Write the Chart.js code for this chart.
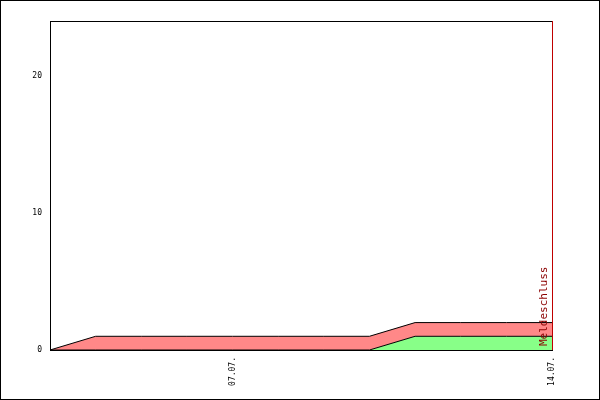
<!DOCTYPE html><html><head><script src="https://cdn.jsdelivr.net/npm/chart.js@4"></script>
<style>body{margin:0;background:#fff}#w{width:598px;height:398px;border:1px solid #000}</style></head><body>
<div id="w"><canvas id="c"></canvas></div>
<script>
const days=['03.07.','04.07.','05.07.','06.07.','07.07.','08.07.','09.07.','10.07.','11.07.','12.07.','13.07.','14.07.'];
const shownLabels=['07.07.','14.07.'];
const greenVals=[0,0,0,0,0,0,0,0,1,1,1,1];
const redVals=[0,1,1,1,1,1,1,1,1,1,1,1];
const yTicks=[0,10,20];
const deadlineLabel='Meldeschluss';
const font={family:'DejaVu Sans Mono',size:8};
const deadline={id:'dl',afterDatasetsDraw(ch){const x=ch.scales.x.getPixelForValue(days.length-1),a=ch.chartArea,c=ch.ctx;
c.save();c.strokeStyle='#c00000';c.lineWidth=1;c.beginPath();c.moveTo(x+0.5,a.top);c.lineTo(x+0.5,a.bottom);c.stroke();
c.translate(x-2,a.bottom-4);c.rotate(-Math.PI/2);c.fillStyle='#8b0000';c.font='11px "DejaVu Sans Mono"';c.textBaseline='bottom';c.fillText(deadlineLabel,0,0);c.restore();}};
new Chart(document.getElementById('c'),{type:'line',
data:{datasets:[
{data:greenVals.map((v,i)=>({x:i,y:v})),backgroundColor:'#88ff88',borderColor:'#000',borderWidth:1,fill:'origin',pointRadius:0,tension:0},
{data:redVals.map((v,i)=>({x:i,y:v})),backgroundColor:'#ff8888',borderColor:'#000',borderWidth:1,fill:'-1',pointRadius:0,tension:0}]},
options:{responsive:true,maintainAspectRatio:false,animation:false,
layout:{padding:{top:19,right:47,left:0,bottom:0}},
plugins:{legend:{display:false},tooltip:{enabled:false}},
scales:{
x:{type:'linear',min:0,max:days.length-1,afterFit(s){s.height=49},
ticks:{stepSize:1,autoSkip:false,maxRotation:90,minRotation:90,font,color:'#000',
callback:v=>shownLabels.includes(days[v])?days[v]:''},
grid:{display:false,drawTicks:true,tickLength:4,tickColor:'#000'},border:{color:'#000'}},
y:{stacked:true,min:0,max:24,afterFit(s){s.width=49},
afterBuildTicks(s){s.ticks=yTicks.map(v=>({value:v}))},
ticks:{font,color:'#000',padding:4},
grid:{display:false,drawTicks:true,tickLength:4,tickColor:'#000'},border:{color:'#000'}},
x2:{position:'top',type:'linear',min:0,max:1,ticks:{display:false},grid:{display:false},border:{color:'#000'},afterFit(s){s.height=1}}
}},plugins:[deadline]});
</script></body></html>
